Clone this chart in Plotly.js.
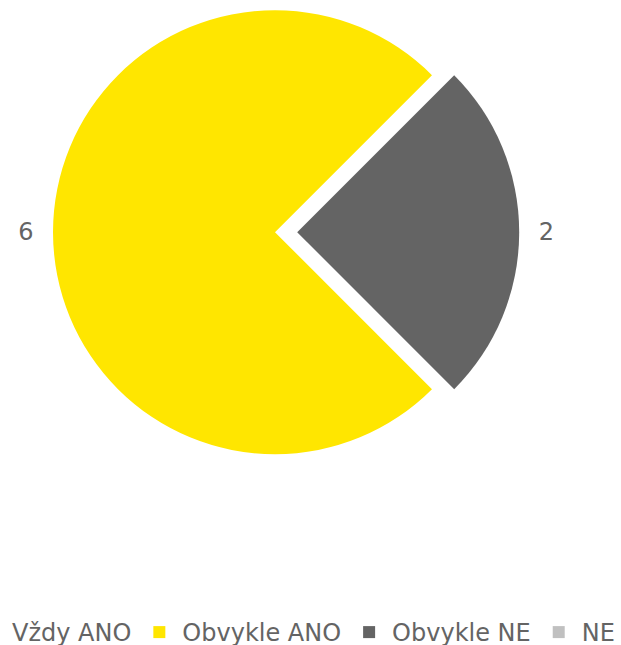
<!DOCTYPE html>
<html>
<head>
<meta charset="utf-8">
<script src="https://cdn.plot.ly/plotly-3.0.1.min.js"></script>
<style>
  html, body { margin: 0; padding: 0; overflow: hidden; background: #fff; width: 621px; height: 645px; }
  #chart { position: absolute; left: -34px; top: -12px; }
</style>
</head>
<body>
<div id="chart"></div>
<script>
const categories = ["Vždy ANO", "Obvykle ANO", "Obvykle NE", "NE"];
const values = [0, 6, 2, 0];
const colors = ["#FFF6B4", "#FFE600", "#646464", "#C0C0C0"];
const pulls = [0, 0, 0.1, 0];

const OFFX = 34;
const W = 621 + OFFX, H = 667;

const trace = {
  type: "pie",
  labels: categories,
  values: values,
  sort: false,
  direction: "clockwise",
  rotation: 135,
  pull: pulls,
  marker: { colors: colors, line: { width: 0 } },
  textposition: "outside",
  texttemplate: ["", "%{value}\u00a0\u2009", "\u00a0\u2009%{value}", ""],
  textfont: { family: "DejaVu Sans", size: 24, color: "#646464" },
  outsidetextfont: { family: "DejaVu Sans", size: 24, color: "#646464" },
  hoverinfo: "none",
  domain: { x: [0, 2 * (275 + OFFX) / W], y: [1 - 488.4 / H, 1] }
};

const layout = {
  width: W,
  height: H,
  margin: { l: 0, r: 0, t: 0, b: 0 },
  paper_bgcolor: "#ffffff",
  showlegend: true,
  legend: {
    orientation: "h",
    x: 0, xanchor: "left",
    y: 0, yanchor: "bottom",
    itemwidth: 36,
    font: { family: "DejaVu Sans", size: 24, color: "#646464" },
    traceorder: "normal"
  }
};

Plotly.newPlot("chart", [trace], layout, { displayModeBar: false, staticPlot: true });
</script>
</body>
</html>
